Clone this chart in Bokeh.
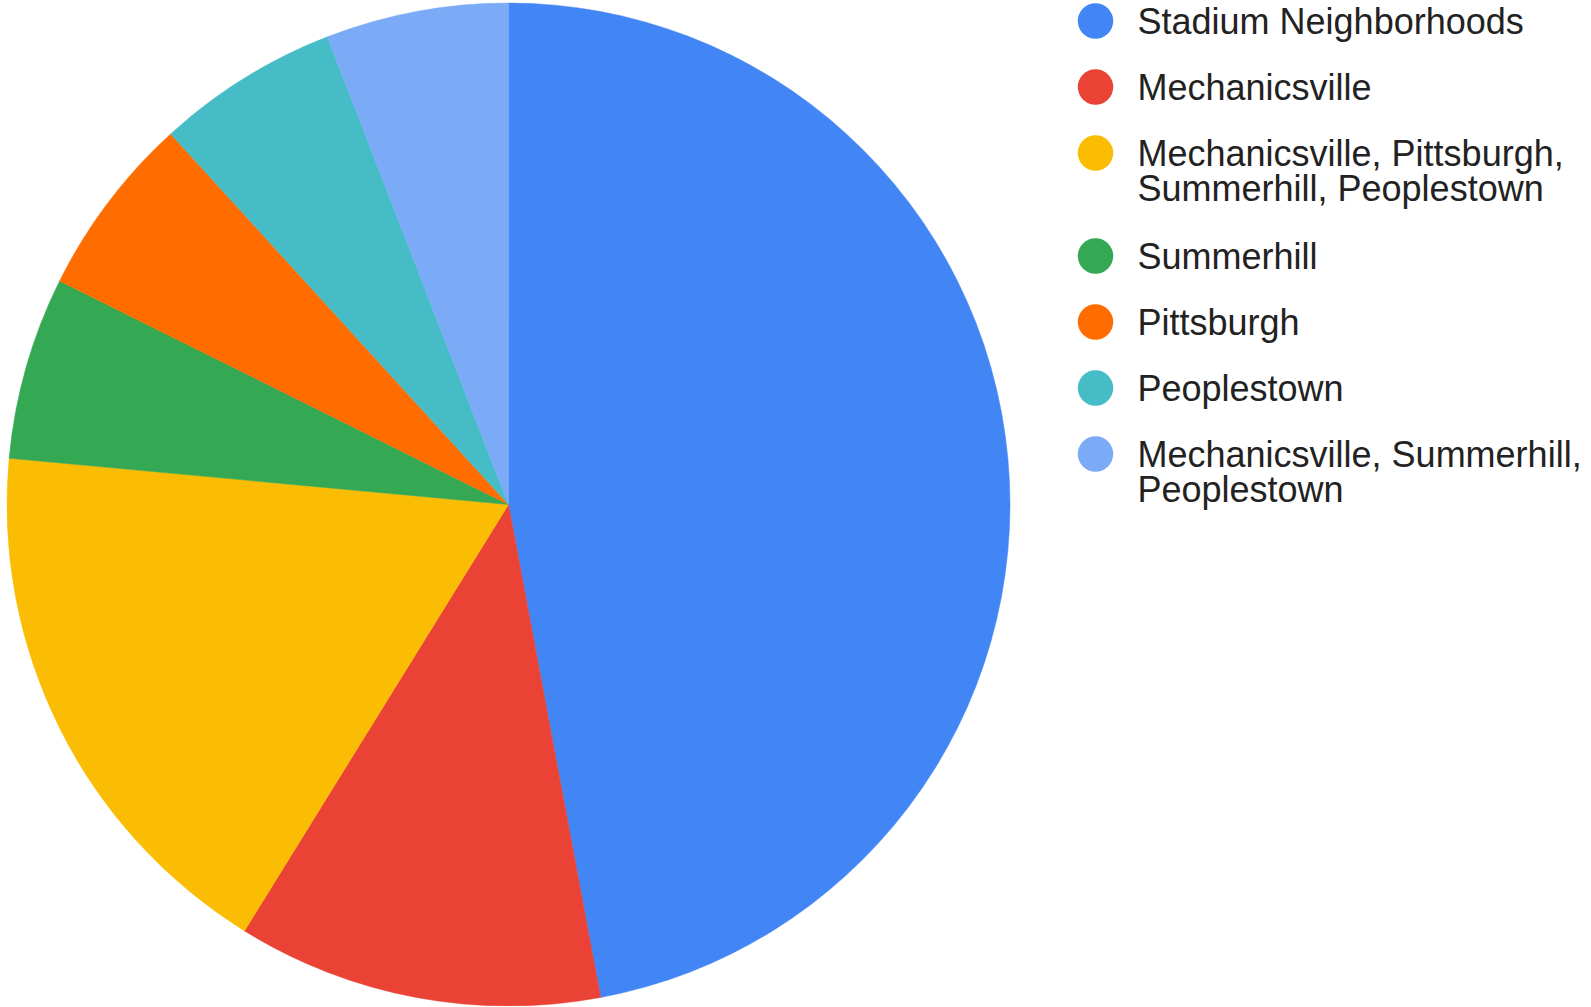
import math
from bokeh.plotting import figure
from bokeh.models import Range1d
from bokeh.core.properties import value
from bokeh.embed import file_html
from bokeh.resources import INLINE

# ---- data ----
labels = [
    "Stadium Neighborhoods",
    "Mechanicsville",
    "Mechanicsville, Pittsburgh,\nSummerhill, Peoplestown",
    "Summerhill",
    "Pittsburgh",
    "Peoplestown",
    "Mechanicsville, Summerhill,\nPeoplestown",
]
counts = [8, 2, 3, 1, 1, 1, 1]
colors = ["#4285F4", "#EA4335", "#FBBC04", "#34A853", "#FF6D01", "#46BDC6", "#7BAAF7"]

W, H = 1590, 1006
p = figure(width=W, height=H, output_backend="svg", toolbar_location=None,
           x_axis_type=None, y_axis_type=None, min_border=0,
           x_range=Range1d(0, W), y_range=Range1d(0, H))
p.outline_line_color = None
p.grid.visible = False

# pie
cx, cy, r = 508, H - 504, 501.5
total = float(sum(counts))
starts, ends = [], []
cum = 0.0
for c in counts:
    starts.append(math.pi / 2 - 2 * math.pi * cum / total)
    cum += c
    ends.append(math.pi / 2 - 2 * math.pi * cum / total)
p.wedge(x=[cx] * len(counts), y=[cy] * len(counts), radius=r,
        start_angle=starts, end_angle=ends, direction="clock",
        fill_color=colors, line_color=colors, line_width=0.5)

# legend
lx, tx = 1095, 1137
ly = H - 20.5
line_h = 35
gap = 66
for lab, col in zip(labels, colors):
    lines = lab.split("\n")
    p.scatter([lx], [ly], size=35.5, marker="circle", fill_color=col, line_color=None)
    for i, ln in enumerate(lines):
        p.text([tx], [ly - i * line_h], text=[ln], text_font=value("Liberation Sans"),
               text_font_size="36px", text_color="#222222",
               text_baseline="middle", text_align="left")
    ly -= gap + (len(lines) - 1) * line_h + (2 if len(lines) > 1 else 0)

open("out.html", "w").write(file_html(p, INLINE))
